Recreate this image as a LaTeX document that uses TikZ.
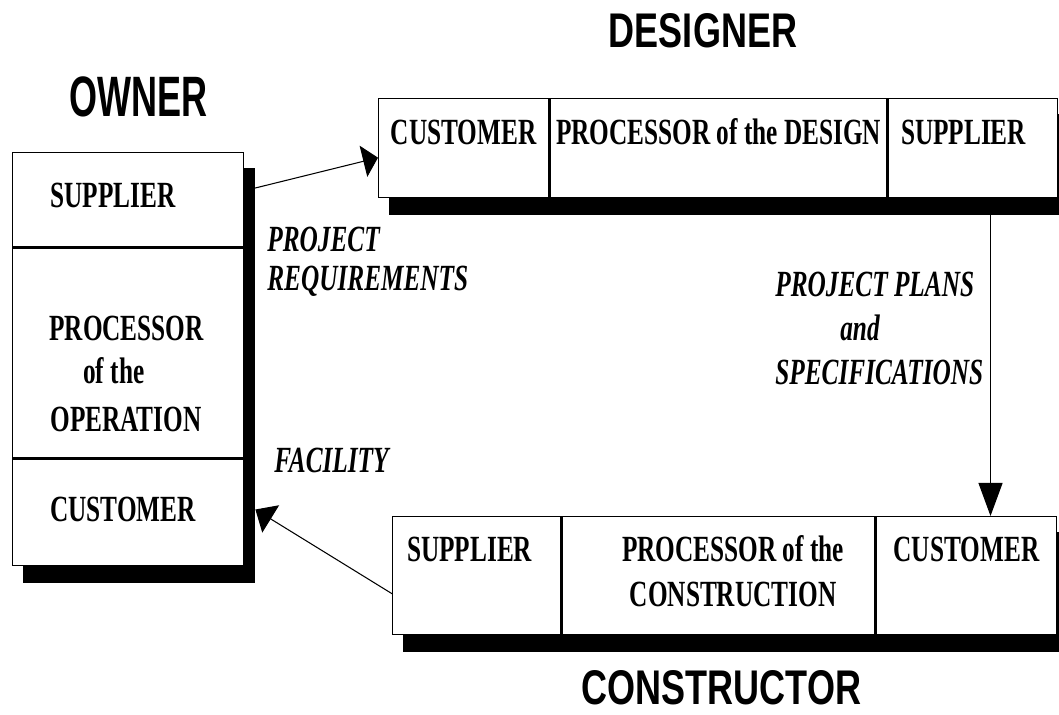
\documentclass[tikz,border=0pt]{standalone}
\usepackage{fontspec}
\newfontfamily\boxfont{Liberation Serif}[FakeStretch=0.685]
\newfontfamily\titlefont{Liberation Sans}[FakeStretch=0.74]
\usetikzlibrary{arrows.meta,backgrounds}

\begin{document}
\begin{tikzpicture}[
        cell/.style={draw, fill=white, line width=0.8pt, anchor=north west, inner sep=0pt},
        word/.style={font={\boxfont\fontsize{21}{25}\selectfont\bfseries}, inner sep=0pt},
        flowtext/.style={font={\boxfont\fontsize{21}{25}\selectfont\bfseries\itshape}, inner sep=0pt, anchor=base west},
        party/.style={font={\titlefont\fontsize{27.7}{33}\selectfont\bfseries}, inner sep=0pt, anchor=base},
        shadow/.style={fill=black},
        flow/.style={line width=0.6pt}
    ]
    \useasboundingbox (0,0) rectangle (21.18,14.30);

    % owner column
    \node[cell, minimum width=4.62cm, minimum height=1.88cm] (osup) at (0.24,11.26) {};
    \node[cell, minimum width=4.62cm, minimum height=4.20cm] (oproc) at (osup.south west) {};
    \node[cell, minimum width=4.62cm, minimum height=2.12cm] (ocust) at (oproc.south west) {};

    % designer row
    \node[cell, minimum width=3.40cm, minimum height=1.98cm] (dcust) at (7.56,12.34) {};
    \node[cell, minimum width=6.74cm, minimum height=1.98cm] (dproc) at (dcust.north east) {};
    \node[cell, minimum width=3.38cm, minimum height=1.98cm] (dsup) at (dproc.north east) {};

    % constructor row
    \node[cell, minimum width=3.36cm, minimum height=2.36cm] (csup) at (7.84,3.98) {};
    \node[cell, minimum width=6.26cm, minimum height=2.36cm] (cproc) at (csup.north east) {};
    \node[cell, minimum width=3.60cm, minimum height=2.36cm] (ccust) at (cproc.north east) {};

    % drop shadows
    \begin{scope}[on background layer]
        \fill[shadow] ([shift={(0.22,-0.33)}]osup.north west) rectangle ([shift={(0.22,-0.33)}]ocust.south east);
        \fill[shadow] ([shift={(0.22,-0.33)}]dcust.north west) rectangle ([shift={(0.22,-0.33)}]dsup.south east);
        \fill[shadow] ([shift={(0.22,-0.33)}]csup.north west) rectangle ([shift={(0.22,-0.33)}]ccust.south east);
    \end{scope}

    % cell texts
    \node[word, anchor=base west] (osuptxt) at ([xshift=0.76cm, yshift=-1.12cm]osup.north west) {SUPPLIER};
    \node[word, anchor=base west] (oproc1) at ([xshift=0.74cm, yshift=-1.86cm]oproc.north west) {PROCESSOR};
    \node[word, anchor=base west] (oproc2) at ([xshift=1.42cm, yshift=-2.72cm]oproc.north west) {of the};
    \node[word, anchor=base west] (oproc3) at ([xshift=0.76cm, yshift=-3.68cm]oproc.north west) {OPERATION};
    \node[word, anchor=base west] (ocusttxt) at ([xshift=0.76cm, yshift=-1.26cm]ocust.north west) {CUSTOMER};

    \node[word, anchor=base] (dcusttxt) at ([yshift=-0.94cm]dcust.north) {CUSTOMER};
    \node[word, anchor=base] (dproctxt) at ([yshift=-0.94cm]dproc.north) {PROCESSOR of the DESIGN};
    \node[word, anchor=base] (dsuptxt) at ([xshift=-0.19cm, yshift=-0.94cm]dsup.north) {SUPPLIER};

    \node[word, anchor=base] (csuptxt) at ([xshift=-0.14cm, yshift=-0.92cm]csup.north) {SUPPLIER};
    \node[word, anchor=base] (cproc1) at ([xshift=0.29cm, yshift=-0.92cm]cproc.north) {PROCESSOR of the};
    \node[word, anchor=base] (cproc2) at ([xshift=0.29cm, yshift=-1.82cm]cproc.north) {CONSTRUCTION};
    \node[word, anchor=base] (ccusttxt) at ([yshift=-0.92cm]ccust.north) {CUSTOMER};

    % parties
    \node[party] (owner) at (2.77,11.96) {\scalebox{1}[1.17]{OWNER}};
    \node[party] (designer) at (14.06,13.34) {DESIGNER};
    \node[party] (constructor) at (14.43,0.20) {CONSTRUCTOR};

    % flows between the parties
    \coordinate (plantop) at ([xshift=0.35cm]dsup.south);
    \draw[flow, -{Triangle[length=0.30cm, width=0.64cm]}] ([yshift=0.18cm]osup.east) -- ([yshift=-0.19cm]dcust.west);
    \draw[flow, -{Triangle[length=0.66cm, width=0.48cm]}] (plantop) -- (plantop |- ccust.north);
    \draw[flow, -{Triangle[length=0.36cm, width=0.64cm]}] ([yshift=-0.36cm]csup.west) -- ([xshift=0.22cm, yshift=0.06cm]ocust.east);

    \node[flowtext] (req1) at (5.34,9.26) {PROJECT};
    \node[flowtext] (req2) at (5.34,8.48) {REQUIREMENTS};
    \node[flowtext] (plans1) at (15.50,8.36) {PROJECT PLANS};
    \node[flowtext, anchor=base] (plans2) at (17.20,7.48) {and};
    \node[flowtext] (plans3) at (15.50,6.60) {SPECIFICATIONS};
    \node[flowtext] (fac) at (5.48,4.84) {FACILITY};
\end{tikzpicture}
\end{document}
